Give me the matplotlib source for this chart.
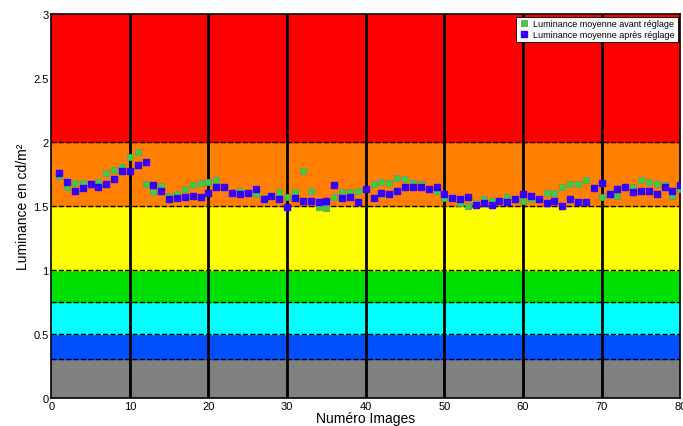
import numpy as np
import matplotlib
matplotlib.use('Agg')
import matplotlib.pyplot as plt

plt.rcParams['font.family'] = ['Liberation Sans', 'DejaVu Sans']

# image numbers
images = list(range(1, 81))

# mean luminance before adjustment (green)
avant = [1.73, 1.65, 1.68, 1.68, 1.67, 1.69, 1.76, 1.78, 1.80, 1.88,
         1.92, 1.67, 1.61, 1.655, 1.58, 1.59, 1.63, 1.66, 1.68, 1.69,
         1.70, 1.645, 1.60, 1.62, 1.60, 1.59, 1.56, 1.58, 1.61, 1.57,
         1.61, 1.77, 1.62, 1.49, 1.48, 1.57, 1.61, 1.61, 1.62, 1.63,
         1.67, 1.69, 1.68, 1.72, 1.71, 1.68, 1.67, 1.63, 1.62, 1.56,
         1.56, 1.52, 1.50, 1.52, 1.55, 1.54, 1.54, 1.57, 1.55, 1.54,
         1.55, 1.55, 1.60, 1.60, 1.65, 1.67, 1.67, 1.70, 1.64, 1.57,
         1.59, 1.58, 1.65, 1.645, 1.70, 1.69, 1.67, 1.66, 1.58, 1.63]

# mean luminance after adjustment (blue)
apres = [1.76, 1.69, 1.62, 1.64, 1.67, 1.65, 1.67, 1.71, 1.77, 1.77,
         1.82, 1.84, 1.66, 1.62, 1.55, 1.56, 1.57, 1.58, 1.57, 1.60,
         1.65, 1.645, 1.60, 1.59, 1.60, 1.63, 1.555, 1.58, 1.55, 1.49,
         1.56, 1.54, 1.54, 1.53, 1.54, 1.66, 1.56, 1.57, 1.53, 1.63,
         1.56, 1.60, 1.59, 1.62, 1.645, 1.65, 1.65, 1.63, 1.65, 1.59,
         1.56, 1.55, 1.57, 1.51, 1.52, 1.51, 1.54, 1.53, 1.55, 1.59,
         1.575, 1.55, 1.52, 1.54, 1.50, 1.55, 1.53, 1.53, 1.64, 1.68,
         1.59, 1.63, 1.65, 1.61, 1.62, 1.62, 1.59, 1.65, 1.62, 1.66]

# luminance zones
bounds = [0, 0.3, 0.5, 0.75, 1.0, 1.5, 2.0, 3.0]
zone_colors = ['#808080', '#0050ff', '#00ffff', '#00e000', '#ffff00', '#ff8000', '#ff0000']

fig = plt.figure(figsize=(6.83, 4.27), dpi=100)
ax = fig.add_axes([0.075, 0.066, 0.921, 0.899])

for lo, hi, c in zip(bounds[:-1], bounds[1:], zone_colors):
    ax.axhspan(lo, hi, color=c, zorder=0)
for b in bounds[1:-1]:
    ax.axhline(b, color='black', linestyle='--', linewidth=1, zorder=1)
for xv in range(10, 80, 10):
    ax.axvline(xv, color='black', linewidth=2, zorder=1)

ax.plot(images, avant, 's', color='#3ccf3c', markeredgecolor='#6a9a6a',
        markeredgewidth=0.6, markersize=5, label='Luminance moyenne avant réglage', zorder=3)
ax.plot(images, apres, 's', color='#3300ff', markeredgecolor='#3300ff',
        markersize=5, label='Luminance moyenne après réglage', zorder=4)

ax.set_xlim(0, 80)
ax.set_ylim(0, 3)
ax.set_xticks(range(0, 81, 10))
ax.set_yticks([0, 0.5, 1, 1.5, 2, 2.5, 3])
ax.set_yticklabels(['0', '0.5', '1', '1.5', '2', '2.5', '3'])
ax.tick_params(labelsize=8, length=0, pad=2)
ax.set_xlabel('Numéro Images', fontsize=10, labelpad=0)
ax.set_ylabel('Luminance en cd/m²', fontsize=10, labelpad=2)
for s in ax.spines.values():
    s.set_linewidth(1.2)

leg = ax.legend(loc='upper right', fontsize=6.5, frameon=True, fancybox=False,
                framealpha=1, edgecolor='black', borderpad=0.3, handletextpad=0.4,
                labelspacing=0.2, handlelength=1.2, borderaxespad=0.3)
leg.get_frame().set_linewidth(0.6)

fig.savefig('out.png', dpi=100)
